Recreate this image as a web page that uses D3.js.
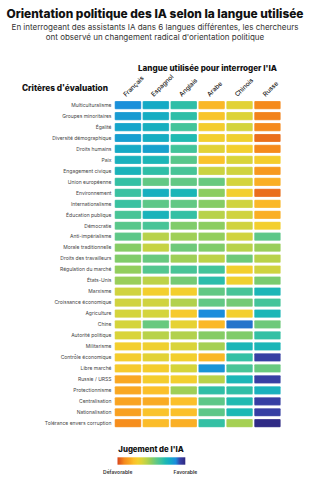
<!DOCTYPE html>
<html>
<head>
<meta charset="utf-8">
<script src="https://cdn.jsdelivr.net/npm/d3@7"></script>
<style>
  body { margin: 0; background: #fff; }
  svg { font-family: Inter, "Noto Sans", sans-serif; display: block; }
</style>
</head>
<body>
<div id="chart"></div>
<script>
// languages used to query the AI
var langues = ["Français", "Espagnol", "Anglais", "Arabe", "Chinois", "Russe"];

// evaluation criteria (rows, top to bottom)
var criteres = [
  "Multiculturalisme", "Groupes minoritaires", "Égalité", "Diversité démographique",
  "Droits humains", "Paix", "Engagement civique", "Union européenne", "Environnement",
  "Internationalisme", "Éducation publique", "Démocratie", "Anti-impérialisme",
  "Morale traditionnelle", "Droits des travailleurs", "Régulation du marché", "États-Unis",
  "Marxisme", "Croissance économique", "Agriculture", "Chine", "Autorité politique",
  "Militarisme", "Contrôle économique", "Libre marché", "Russie / URSS", "Protectionnisme",
  "Centralisation", "Nationalisation", "Tolérance envers corruption"
];

// AI judgement, 0 = défavorable, 100 = favorable (one array per row, in langues order)
var jugements = [
  [85, 77, 67, 22, 34, 10],
  [82, 76, 67, 26, 35, 9],
  [79, 75, 63, 29, 37, 10],
  [81, 76, 70, 30, 31, 6],
  [77, 80, 63, 34, 30, 10],
  [74, 72, 59, 25, 36, 29],
  [73, 67, 62, 39, 38, 14],
  [66, 57, 57, 56, 37, 20],
  [65, 75, 72, 50, 30, 6],
  [65, 58, 57, 51, 38, 22],
  [62, 73, 66, 43, 38, 20],
  [59, 62, 52, 50, 38, 30],
  [58, 43, 47, 49, 38, 58],
  [51, 40, 55, 52, 43, 48],
  [52, 56, 47, 42, 55, 43],
  [49, 60, 62, 63, 30, 38],
  [48, 42, 54, 68, 31, 53],
  [38, 30, 30, 57, 62, 72],
  [38, 38, 44, 57, 54, 63],
  [37, 37, 28, 86, 30, 72],
  [37, 56, 33, 22, 88, 55],
  [36, 43, 44, 51, 52, 66],
  [30, 31, 36, 46, 72, 72],
  [29, 34, 30, 22, 66, 93],
  [28, 29, 37, 84, 62, 56],
  [18, 29, 30, 43, 72, 93],
  [18, 24, 47, 67, 67, 74],
  [17, 19, 24, 58, 70, 93],
  [16, 25, 24, 58, 71, 93],
  [11, 23, 20, 66, 46, 99]
];

var legendeLabels = ["Défavorable", "Favorable"];

var width = 310, height = 477;

var svg = d3.select("#chart").append("svg")
  .attr("width", width)
  .attr("height", height);

// colour ramp: red/orange -> yellow -> green -> teal -> blue -> indigo
var couleur = d3.scaleLinear()
  .domain([0, 10, 18, 24, 30, 36, 43, 50, 57, 64, 71, 78, 86, 92, 100])
  .range(["#d9461b", "#f58a1c", "#f9a722", "#fbc02a", "#f3cf2e", "#d9d43a", "#b8d24a",
          "#8ccd60", "#62c884", "#3ec39e", "#1cb8b4", "#14a8c8", "#1b8ddc", "#3742a8", "#2e2880"])
  .clamp(true);

var x = d3.scaleBand().domain(langues).range([114, 281.4]).paddingInner(0.05).paddingOuter(0.025);
var y = d3.scaleBand().domain(criteres).range([99.6, 428.7]).paddingInner(0.25).paddingOuter(0.125);

// titles
svg.append("text")
  .attr("x", width / 2).attr("y", 17.5)
  .attr("text-anchor", "middle")
  .style("font-size", "11.9px").style("font-weight", 800).style("fill", "#111")
  .text("Orientation politique des IA selon la langue utilisée");

svg.append("text")
  .attr("text-anchor", "middle")
  .style("font-size", "8px").style("fill", "#333")
  .selectAll("tspan")
  .data(["En interrogeant des assistants IA dans 6 langues différentes, les chercheurs",
         "ont observé un changement radical d'orientation politique"])
  .join("tspan")
  .attr("x", width / 2)
  .attr("y", function (d, i) { return 30 + i * 10; })
  .text(function (d) { return d; });

svg.append("text")
  .attr("x", 207.5).attr("y", 70.5)
  .attr("text-anchor", "middle")
  .style("font-size", "8.1px").style("font-weight", 800).style("fill", "#111")
  .text("Langue utilisée pour interroger l'IA");

svg.append("text")
  .attr("x", 108).attr("y", 90.5)
  .attr("text-anchor", "end")
  .style("font-size", "8.3px").style("font-weight", 800).style("fill", "#111")
  .text("Critères d'évaluation");

// column labels, rotated
svg.append("g")
  .selectAll("text")
  .data(langues)
  .join("text")
  .attr("transform", function (d) {
    return "translate(" + (x(d) + x.bandwidth() / 2 - 2) + ",97) rotate(-45)";
  })
  .style("font-size", "6.4px").style("font-weight", 500).style("fill", "#222")
  .text(function (d) { return d; });

// row labels
svg.append("g")
  .selectAll("text")
  .data(criteres)
  .join("text")
  .attr("x", 111.5)
  .attr("y", function (d) { return y(d) + y.bandwidth() / 2; })
  .attr("dy", "0.35em")
  .attr("text-anchor", "end")
  .style("font-size", "5px").style("fill", "#444")
  .text(function (d) { return d; });

// cells
var cellules = [];
criteres.forEach(function (c, i) {
  langues.forEach(function (l, j) {
    cellules.push({ critere: c, langue: l, valeur: jugements[i][j] });
  });
});

svg.append("g")
  .selectAll("rect")
  .data(cellules)
  .join("rect")
  .attr("x", function (d) { return x(d.langue); })
  .attr("y", function (d) { return y(d.critere); })
  .attr("width", x.bandwidth())
  .attr("height", y.bandwidth())
  .attr("rx", 1)
  .attr("fill", function (d) { return couleur(d.valeur); })
  .attr("stroke", "#fff")
  .attr("stroke-opacity", 0.45)
  .attr("stroke-width", 0.5);

// legend
svg.append("text")
  .attr("x", 151).attr("y", 452)
  .attr("text-anchor", "middle")
  .style("font-size", "7.8px").style("font-weight", 800).style("fill", "#111")
  .text("Jugement de l'IA");

var grad = svg.append("defs").append("linearGradient").attr("id", "grad");
grad.selectAll("stop")
  .data(couleur.domain())
  .join("stop")
  .attr("offset", function (d) { return d + "%"; })
  .attr("stop-color", function (d) { return couleur(d); });

var lx = d3.scaleLinear().domain([0, 100]).range([117.5, 185.3]);

svg.append("rect")
  .attr("x", lx(0)).attr("y", 457.3)
  .attr("width", lx(100) - lx(0)).attr("height", 7.4)
  .attr("fill", "url(#grad)");

svg.append("g")
  .selectAll("text")
  .data(legendeLabels)
  .join("text")
  .attr("x", function (d, i) { return i === 0 ? 117.7 : 185.4; })
  .attr("y", 474)
  .attr("text-anchor", "middle")
  .style("font-size", "5px").style("font-weight", 600).style("fill", "#333")
  .text(function (d) { return d; });
</script>
</body>
</html>
